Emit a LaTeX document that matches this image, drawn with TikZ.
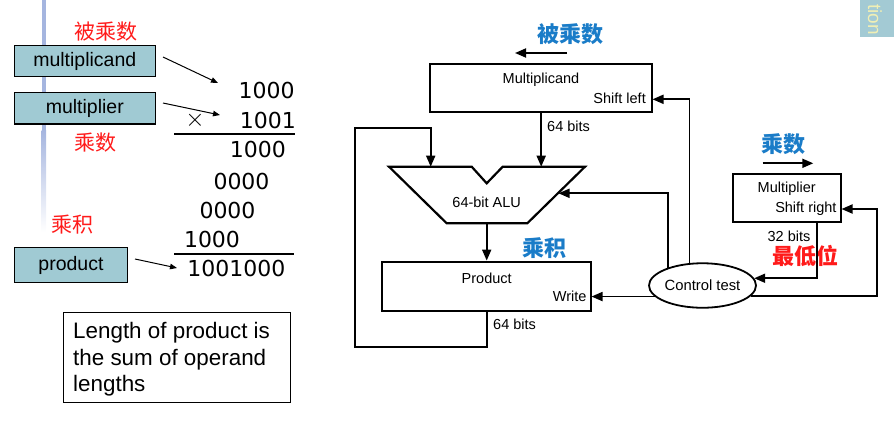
\documentclass[tikz,border=0pt]{standalone}
\usepackage{fontspec}
\setmainfont{Liberation Sans}
\newfontfamily\cjk{Noto Sans CJK SC}
\newfontfamily\dejavu{DejaVu Sans}
\usetikzlibrary{arrows.meta,shapes.geometric,calc}
\definecolor{boxfill}{HTML}{A0CAD3}
\definecolor{tabfill}{HTML}{A3CAD4}
\definecolor{tabtext}{HTML}{F0EFB5}
\definecolor{barblue}{HTML}{A5B5DF}
\definecolor{cnred}{HTML}{FF1A1A}
\definecolor{cnblue}{HTML}{1A7CC8}
\begin{document}
\begin{tikzpicture}[x=1pt,y=-1pt,
  lbox/.style={draw=black, line width=1.2pt, fill=boxfill, inner sep=0, font=\fontsize{19.5}{22}\selectfont},
  rbox/.style={draw=black, line width=2.2pt, inner sep=0},
  conn/.style={line width=1.8pt, -{Triangle[length=11pt,width=9pt]}},
  thinarr/.style={line width=1pt, -{Triangle[length=7pt,width=5.5pt]}},
  lbl/.style={inner sep=0, font=\fontsize{14.5}{17}\selectfont},
  digits/.style={inner sep=0, font=\dejavu\fontsize{22}{26}\selectfont},
  redcjk/.style={inner sep=0, text=cnred, font=\cjk\fontsize{21}{24}\selectfont},
  bluecjk/.style={inner sep=0, text=cnblue, font=\cjk\bfseries\fontsize{22}{24}\selectfont}
]
\useasboundingbox (0,0) rectangle (894,437);

% side bar
\fill[barblue] (41.5,0) rectangle (46,130);
\shade[top color=barblue, bottom color=white] (41.5,130) rectangle (46,232);

% top-right tab
\begin{scope}
\clip (860,0) rectangle (894,37);
\fill[tabfill] (860,0) rectangle (894,37);
\node[rotate=-90, anchor=base east, inner sep=0, text=tabtext, font=\fontsize{19}{22}\selectfont] (tab) at (868,35) {tion};
\end{scope}

% ---------- left part ----------
\node[redcjk] (lmcandcn) at (105.5,32) {被乘数};
\node[lbox, minimum width=141pt, minimum height=31.5pt] (lmcand) at (84.8,61) {multiplicand};
\node[lbox, minimum width=141pt, minimum height=31.5pt] (lmplier) at (84.8,108.3) {multiplier};
\node[redcjk] (lmpliercn) at (95,143) {乘数};
\node[redcjk] (lprodcn) at (72.5,224.5) {乘积};
\node[lbox, minimum width=113.5pt, minimum height=35.5pt] (lprod) at (71,265) {product};

\node[digits] (r1) at (266.7,90.5) {1000};
\node[digits] (r2) at (267.9,120.5) {1001};
\node[inner sep=0, font=\fontsize{27}{30}\selectfont] (times) at (195,120) {$\times$};
\node[digits] (r3) at (257.9,149.5) {1000};
\node[digits] (r4) at (241.5,181.5) {0000};
\node[digits] (r5) at (227.5,210.5) {0000};
\node[digits] (r6) at (212,239.5) {1000};
\node[digits] (r7) at (236.4,268) {1001000};
\draw[line width=1.2pt] (174,134) -- (295,134);
\draw[line width=1.2pt] (174,254) -- (294,254);

\coordinate (a1s) at (163,57);
\coordinate (a1e) at (218,83);
\coordinate (a2s) at (163,103);
\coordinate (a2e) at (220,115);
\coordinate (a3s) at (135,259);
\coordinate (a3e) at (177,268);
\draw[thinarr] (a1s) -- (a1e);
\draw[thinarr] (a2s) -- (a2e);
\draw[thinarr] (a3s) -- (a3e);

\node[draw=black, line width=1.2pt, minimum width=227pt, minimum height=90pt, inner sep=0] (note) at (177,357.5) {};
\node[anchor=north west, inner sep=0, align=left, font=\fontsize{22.4}{26.7}\selectfont] (notetext) at (73,322) {Length of product is\\the sum of operand\\lengths};

% ---------- right part ----------
\node[bluecjk] (mcandcn) at (570,34) {被乘数};
\coordinate (b1s) at (567,53);
\coordinate (b1e) at (515,53);
\draw[conn] (b1s) -- (b1e);

\node[rbox, minimum width=222.3pt, minimum height=48.6pt] (mcand) at (541.2,88) {};
\node[lbl] (mcandT) at (541,80) {Multiplicand};
\node[lbl, anchor=east] (mcandS) at (646,98.7) {Shift left};
\node[lbl, anchor=west] (bits1) at (547,126) {64 bits};

% ALU
\draw[line width=2.2pt] (389,166.7) -- (471.7,166.7) -- (486.7,183.3) -- (502.7,166.7) -- (585,166.7) -- (527.3,223.3) -- (446.7,223.3) -- cycle;
\node[lbl] (alu) at (486.7,202.7) {64-bit ALU};
\coordinate (aluL) at (430.7,166.7);
\coordinate (aluR) at (541.2,166.7);
\coordinate (aluOut) at (486.7,223.3);
\coordinate (aluC) at (558.5,193.3);

\node[bluecjk] (prodcn) at (544,248) {乘积};
\node[rbox, minimum width=209.3pt, minimum height=49pt] (prod) at (486.7,286.2) {};
\node[lbl] (prodT) at (486.7,278.3) {Product};
\node[lbl, anchor=east] (prodW) at (586.7,296.7) {Write};
\node[lbl, anchor=west] (bits2) at (493,324.3) {64 bits};
\coordinate (prodIn) at (591.5,296.7);

\node[bluecjk] (mpliercn) at (783.7,144) {乘数};
\coordinate (b2s) at (762.7,163.3);
\coordinate (b2e) at (813.3,163.3);
\draw[conn] (b2s) -- (b2e);

\node[rbox, minimum width=108pt, minimum height=48pt] (mplier) at (787.3,198.3) {};
\node[lbl] (mplierT) at (786.7,189) {Multiplier};
\node[lbl, anchor=east] (mplierS) at (836.7,208.3) {Shift right};
\node[lbl] (bits3) at (789,236) {32 bits};
\node[inner sep=0, text=cnred, font=\cjk\bfseries\fontsize{22}{24}\selectfont] (lsb) at (805.7,256) {最低位};
\coordinate (mplierOut) at (816.7,222.5);
\coordinate (mplierIn) at (841.5,209);
\coordinate (rcorner) at (877.3,209);

\node[draw=black, ellipse, line width=1.8pt, minimum width=107pt, minimum height=44.5pt, inner sep=0, font=\fontsize{14.8}{17}\selectfont] (ctrl) at (702.5,285.5) {Control test};
\coordinate (mcandIn) at (652.5,99.3);

% connectors
\draw[conn] (mcand.south) -- (aluR);
\draw[conn] (aluOut) -- (prod.north);
\coordinate (lb) at (355,346.7);
\coordinate (lt) at (355,128.3);
\draw[conn] (prod.south) |- (lb) -- (lt) -| (aluL);
\draw[conn] (ctrl.120.6) |- (mcandIn);
\draw[conn] (ctrl.153.7) |- (aluC);
\draw[conn] (ctrl.193.4) -- (ctrl.193.4 -| prodIn);
\draw[conn] (mplierOut) |- (ctrl.8.7);
\draw[conn] (ctrl.348.1) -| (rcorner) -- (mplierIn);
\end{tikzpicture}
\end{document}
